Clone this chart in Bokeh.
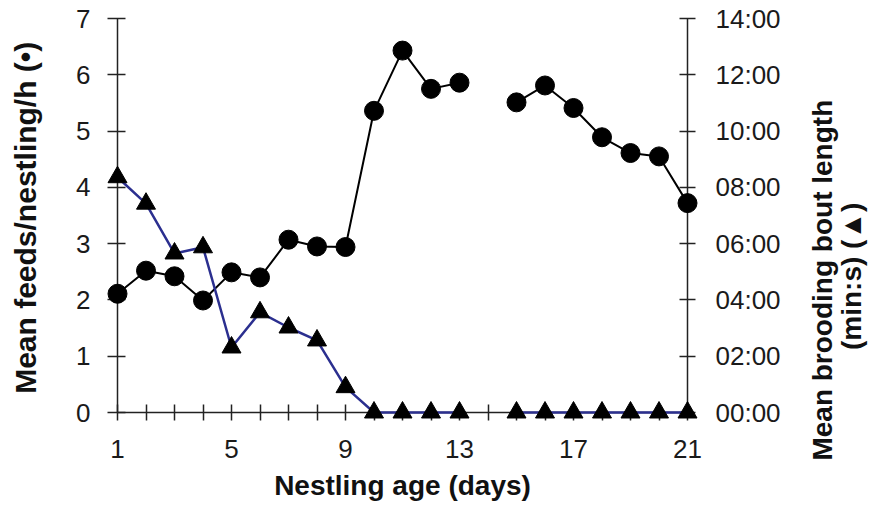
import math
from bokeh.plotting import figure
from bokeh.models import Range1d, LinearAxis, FixedTicker
from bokeh.core.properties import value
from bokeh.embed import file_html
from bokeh.resources import INLINE

nan = float("nan")

# Nestling age (days)
days = list(range(1, 22))
# Mean feeds / nestling / h (circles); day 14 missing
feeds = [2.11, 2.52, 2.42, 1.99, 2.49, 2.40, 3.07, 2.95, 2.94, 5.36, 6.43,
         5.75, 5.86, nan, 5.51, 5.81, 5.41, 4.89, 4.61, 4.55, 3.72]
# Mean brooding bout length in minutes (triangles); day 14 missing
brood_min = [8.36, 7.42, 5.65, 5.87, 2.31, 3.56, 3.02, 2.56, 0.90, 0.0, 0.0,
             0.0, 0.0, nan, 0.0, 0.0, 0.0, 0.0, 0.0, 0.0, 0.0]

x_ticks = list(range(1, 22))
x_tick_labels = ["1", "5", "9", "13", "17", "21"]
left_ticks = [0, 1, 2, 3, 4, 5, 6, 7]
right_ticks = [0, 2, 4, 6, 8, 10, 12, 14]
right_tick_labels = ["00:00", "02:00", "04:00", "06:00", "08:00", "10:00", "12:00", "14:00"]
left_title = "Mean feeds/nestling/h (\u2022)"
right_title_lines = ["Mean  brooding bout length", "(min:s) (\u25b2)"]

FONT = "Liberation Sans"
AXIS_COLOR = "#222222"
BLUE = "#2b2f8f"

p = figure(width=872, height=503, x_range=Range1d(1, 21), y_range=Range1d(0, 7),
           output_backend="svg", toolbar_location=None,
           min_border_left=117, min_border_right=185, min_border_top=18, min_border_bottom=91)
p.grid.visible = False
p.outline_line_color = None
p.background_fill_color = "white"
p.border_fill_color = "white"

p.extra_y_ranges = {"brood": Range1d(0, 14)}
right = LinearAxis(y_range_name="brood")
p.add_layout(right, "right")


def style_axis(ax):
    ax.axis_line_color = AXIS_COLOR
    ax.axis_line_width = 1.5
    ax.major_tick_line_color = AXIS_COLOR
    ax.major_tick_line_width = 1.5
    ax.major_tick_in = 8
    ax.major_tick_out = 8
    ax.minor_tick_line_color = None
    ax.major_label_text_font = FONT
    ax.major_label_text_font_size = "26px"
    ax.major_label_text_color = "#1a1a1a"
    ax.axis_label_text_font = FONT
    ax.axis_label_text_font_style = "bold"
    ax.axis_label_text_color = "#111111"


xa = p.xaxis[0]
style_axis(xa)
xa.ticker = FixedTicker(ticks=x_ticks)
overrides = {}
for d in x_ticks:
    overrides[d] = ""
for lab in x_tick_labels:
    overrides[int(lab)] = lab
xa.major_label_overrides = overrides
xa.major_label_standoff = 19
xa.axis_label = "Nestling age (days)"
xa.axis_label_text_font_size = "28px"
xa.axis_label_standoff = 9

ya = p.yaxis[0]
style_axis(ya)
ya.major_tick_out = 10
ya.ticker = FixedTicker(ticks=left_ticks)
ya.major_label_standoff = 17

style_axis(right)
right.ticker = FixedTicker(ticks=right_ticks)
right.major_label_overrides = {t: s for t, s in zip(right_ticks, right_tick_labels)}
right.major_label_standoff = 20

# left axis title (reads bottom to top)
p.text(x=[-2.23], y=[3.46], text=[left_title], angle=math.pi / 2,
       text_align="center", text_baseline="middle",
       text_font=value(FONT), text_font_style="bold",
       text_font_size=value("30px"), text_color="#111111", level="overlay")

# right axis title, two centred lines reading bottom to top
p.text(x=[25.74, 26.74], y=[2.42, 2.42], text=right_title_lines, angle=math.pi / 2,
       text_align="center", text_baseline="middle",
       text_font=value(FONT), text_font_style="bold",
       text_font_size=value("28px"), text_color="#111111", level="overlay")

# circles series
p.line(days, feeds, line_color="black", line_width=2, level="overlay")
p.scatter(days, feeds, marker="circle", size=19, fill_color="black",
          line_color="black", level="overlay")

# triangles series (right axis)
p.line(days, brood_min, y_range_name="brood", line_color=BLUE, line_width=2.5, level="overlay")
p.scatter(days, brood_min, y_range_name="brood", marker="triangle", size=19,
          fill_color="black", line_color="black", level="overlay")

open("out.html", "w").write(file_html(p, INLINE))
